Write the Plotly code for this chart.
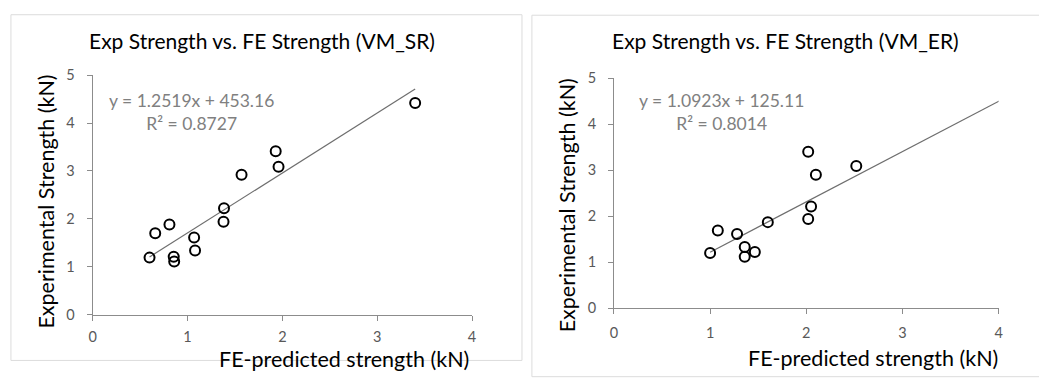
import plotly.graph_objects as go

W, H = 1039, 378

# Data (kN)
sr_fe = [0.60, 0.66, 0.81, 0.855, 0.86, 1.07, 1.08, 1.38, 1.385, 1.57, 1.93, 1.96, 3.40]
sr_exp = [1.19, 1.70, 1.88, 1.21, 1.11, 1.61, 1.34, 1.94, 2.22, 2.92, 3.41, 3.09, 4.42]

er_fe = [1.00, 1.08, 1.28, 1.36, 1.36, 1.465, 1.60, 2.02, 2.05, 2.02, 2.10, 2.52, 4.40]
er_exp = [1.20, 1.69, 1.61, 1.33, 1.12, 1.22, 1.87, 1.94, 2.21, 3.40, 2.90, 3.09, 4.42]

sr_slope, sr_int = 1.2519, 0.45316
er_slope, er_int = 1.0923, 0.12511

titles = ["Exp Strength vs. FE Strength (VM_SR)", "Exp Strength vs. FE Strength (VM_ER)"]
eq_text = ["y = 1.2519x + 453.16<br>R² = 0.8727", "y = 1.0923x + 125.11<br>R² = 0.8014"]
x_ticks = [0, 1, 2, 3, 4]
y_ticks = [0, 1, 2, 3, 4, 5]

FONT = "Lato"

def px_x(p):
    return p / W

def px_y(p):
    return 1 - p / H

fig = go.Figure()

marker = dict(symbol="circle-open", size=10, color="black", line=dict(width=2, color="black"))

for i, (fx, fy, s, b) in enumerate([(sr_fe, sr_exp, sr_slope, sr_int), (er_fe, er_exp, er_slope, er_int)]):
    xa = "x" if i == 0 else "x2"
    ya = "y" if i == 0 else "y2"
    xs = [min(fx), max(fx)]
    fig.add_trace(go.Scatter(x=xs, y=[s * v + b for v in xs], mode="lines",
                             line=dict(color="#6e6e6e", width=1.2), xaxis=xa, yaxis=ya,
                             showlegend=False, hoverinfo="skip"))
    fig.add_trace(go.Scatter(x=fx, y=fy, mode="markers", marker=marker,
                             xaxis=xa, yaxis=ya, showlegend=False, cliponaxis=True))

axis_common = dict(showgrid=False, zeroline=False, showline=True, linecolor="#8c8c8c", linewidth=1,
                   ticks="outside", ticklen=5, tickcolor="#8c8c8c",
                   tickfont=dict(family=FONT, size=14.5, color="#595959"))

fig.update_layout(
    width=W, height=H, margin=dict(l=0, r=0, t=0, b=0),
    paper_bgcolor="white", plot_bgcolor="white",
    font=dict(family=FONT),
    xaxis=dict(domain=[px_x(89.3), px_x(471.7)], range=[0, 4], tickvals=x_ticks, anchor="y",
               ticklabelstandoff=4, **axis_common),
    yaxis=dict(domain=[px_y(320), px_y(69.3)], range=[0, 5], tickvals=y_ticks, anchor="x",
               ticklabelstandoff=9, **axis_common),
    xaxis2=dict(domain=[px_x(614.7), px_x(1002.3)], range=[0, 4], tickvals=x_ticks, anchor="y2",
                ticklabelstandoff=6, **axis_common),
    yaxis2=dict(domain=[px_y(313.3), px_y(72.3)], range=[0, 5], tickvals=y_ticks, anchor="x2",
                ticklabelstandoff=9, **axis_common),
)

ann = []
# Titles
for cx, t in [(260, titles[0]), (788, titles[1])]:
    ann.append(dict(x=px_x(cx), y=px_y(33), xref="paper", yref="paper", text=t, showarrow=False,
                    xanchor="center", yanchor="middle", font=dict(family=FONT, size=21, color="black")))
# X titles
for cx, cy in [(342.5, 366), (876, 365)]:
    ann.append(dict(x=px_x(cx), y=px_y(cy), xref="paper", yref="paper", text="FE-predicted strength (kN)",
                    showarrow=False, xanchor="center", yanchor="middle", borderpad=0,
                    font=dict(family=FONT, size=21.5, color="black")))
# Y titles
for cx, cy in [(42, 202), (567, 206)]:
    ann.append(dict(x=px_x(cx), y=px_y(cy), xref="paper", yref="paper", text="Experimental Strength (kN)",
                    showarrow=False, xanchor="center", yanchor="middle", textangle=-90,
                    font=dict(family=FONT, size=21.5, color="black")))
# Equations
for cx, t in [(189, eq_text[0]), (723, eq_text[1])]:
    ann.append(dict(x=px_x(cx), y=px_y(108), xref="paper", yref="paper", text=t, showarrow=False,
                    xanchor="center", yanchor="middle", align="center",
                    font=dict(family=FONT, size=17.5, color="#808080")))
fig.update_layout(annotations=ann)

# Chart-area borders
fig.add_shape(type="rect", xref="paper", yref="paper", x0=px_x(7), x1=px_x(522), y0=px_y(368), y1=px_y(6),
              line=dict(color="#dcdcdc", width=1), fillcolor="rgba(0,0,0,0)", layer="below")
fig.add_shape(type="rect", xref="paper", yref="paper", x0=px_x(532), x1=px_x(1045), y0=px_y(385), y1=px_y(6.5),
              line=dict(color="#dcdcdc", width=1), fillcolor="rgba(0,0,0,0)", layer="below")

fig.write_html("out.html")
